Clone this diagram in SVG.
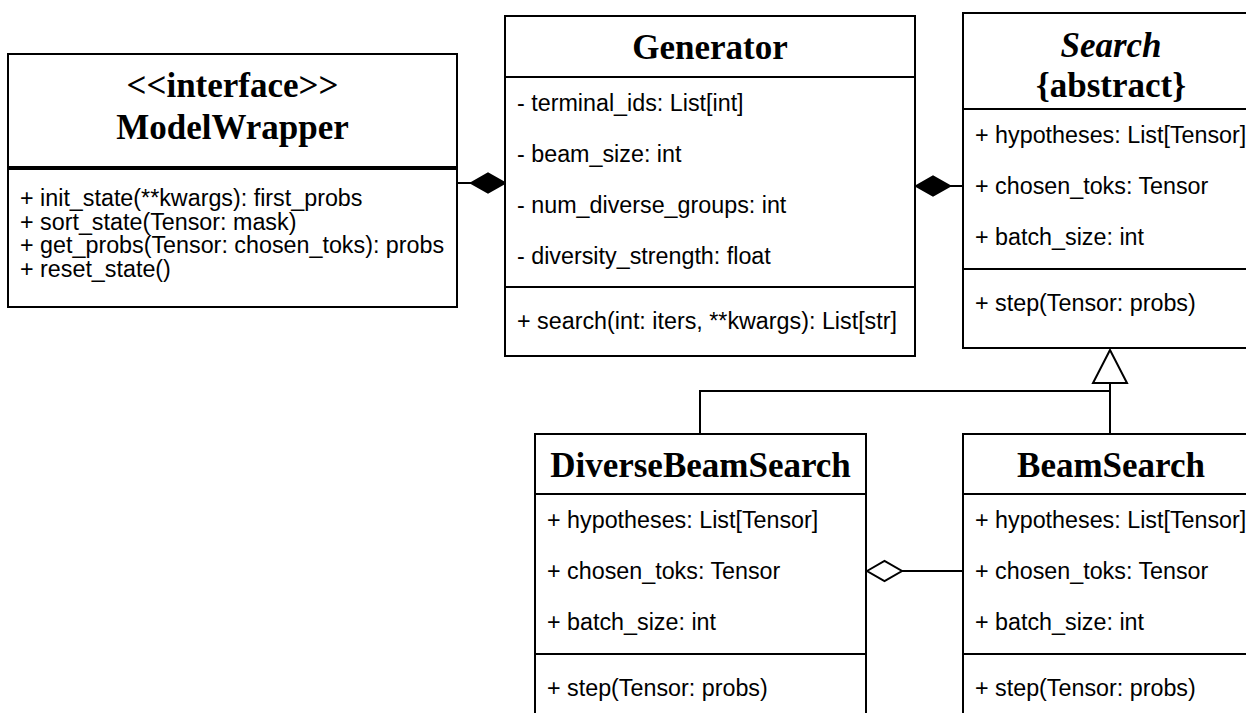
<svg xmlns="http://www.w3.org/2000/svg" width="1246" height="713" viewBox="0 0 1246 713">
  <style>
    .box { fill: #ffffff; stroke: #000000; stroke-width: 2; }
    .sep { stroke: #000000; stroke-width: 2; }
    .sep-thick { stroke: #000000; stroke-width: 4; }
    .title { font-family: "Liberation Serif", "Times New Roman", serif; font-weight: bold; font-size: 35px; fill: #000000; text-anchor: middle; }
    .italic { font-style: italic; }
    .member { font-family: "Liberation Sans", Arial, sans-serif; font-size: 23.3px; fill: #000000; }
    .edge { fill: none; stroke: #000000; stroke-width: 2; }
    .filled { fill: #000000; stroke: #000000; stroke-width: 2; stroke-linejoin: miter; }
    .hollow { fill: #ffffff; stroke: #000000; stroke-width: 2; stroke-linejoin: miter; }
  </style>

  <rect width="1246" height="713" fill="#ffffff"/>

  <!-- connectors -->
  <g id="connectors">
    <!-- Generator owns ModelWrapper (composition) -->
    <line class="edge" x1="457" y1="183" x2="471" y2="183"/>
    <polygon class="filled" points="471,183 488,173.5 505,183 488,192.5"/>
    <!-- Generator owns Search (composition) -->
    <line class="edge" x1="950" y1="186" x2="963" y2="186"/>
    <polygon class="filled" points="916,186 933,176.5 950,186 933,195.5"/>
    <!-- generalisation: DiverseBeamSearch / BeamSearch extend Search -->
    <polyline class="edge" points="700,434 700,391 1110,391"/>
    <line class="edge" x1="1110" y1="383" x2="1110" y2="434"/>
    <polygon class="hollow" points="1110,350 1127,383 1093,383"/>
    <!-- DiverseBeamSearch aggregates BeamSearch -->
    <line class="edge" x1="902" y1="571" x2="963" y2="571"/>
    <polygon class="hollow" points="867,571 884.5,561 902,571 884.5,581"/>
  </g>

  <!-- interface ModelWrapper -->
  <g id="model-wrapper">
    <rect class="box" x="8" y="54" width="449" height="253"/>
    <line class="sep-thick" x1="8" y1="168" x2="457" y2="168"/>
    <text class="title" x="232.5" y="97">&lt;&lt;interface&gt;&gt;</text>
    <text class="title" x="232.5" y="139">ModelWrapper</text>
    <text class="member" x="20" y="206">+ init_state(**kwargs): first_probs</text>
    <text class="member" x="20" y="229.5">+ sort_state(Tensor: mask)</text>
    <text class="member" x="20" y="253">+ get_probs(Tensor: chosen_toks): probs</text>
    <text class="member" x="20" y="276.5">+ reset_state()</text>
  </g>

  <!-- class Generator -->
  <g id="generator">
    <rect class="box" x="505" y="16" width="410" height="340"/>
    <line class="sep" x1="505" y1="77" x2="915" y2="77"/>
    <line class="sep" x1="505" y1="287" x2="915" y2="287"/>
    <text class="title" x="710" y="59">Generator</text>
    <text class="member" x="517" y="111">- terminal_ids: List[int]</text>
    <text class="member" x="517" y="162">- beam_size: int</text>
    <text class="member" x="517" y="213">- num_diverse_groups: int</text>
    <text class="member" x="517" y="264">- diversity_strength: float</text>
    <text class="member" x="517" y="329">+ search(int: iters, **kwargs): List[str]</text>
  </g>

  <!-- abstract class Search -->
  <g id="search">
    <rect class="box" x="963" y="13" width="296" height="335"/>
    <line class="sep" x1="963" y1="109" x2="1259" y2="109"/>
    <line class="sep" x1="963" y1="269" x2="1259" y2="269"/>
    <text class="title italic" x="1111" y="57">Search</text>
    <text class="title" x="1111" y="97">{abstract}</text>
    <text class="member" x="975" y="143">+ hypotheses: List[Tensor]</text>
    <text class="member" x="975" y="194">+ chosen_toks: Tensor</text>
    <text class="member" x="975" y="245">+ batch_size: int</text>
    <text class="member" x="975" y="311">+ step(Tensor: probs)</text>
  </g>

  <!-- class DiverseBeamSearch -->
  <g id="diverse-beam-search">
    <rect class="box" x="535" y="434" width="331" height="300"/>
    <line class="sep" x1="535" y1="494" x2="866" y2="494"/>
    <line class="sep" x1="535" y1="654" x2="866" y2="654"/>
    <text class="title" x="700.5" y="477">DiverseBeamSearch</text>
    <text class="member" x="547" y="528">+ hypotheses: List[Tensor]</text>
    <text class="member" x="547" y="579">+ chosen_toks: Tensor</text>
    <text class="member" x="547" y="630">+ batch_size: int</text>
    <text class="member" x="547" y="696">+ step(Tensor: probs)</text>
  </g>

  <!-- class BeamSearch -->
  <g id="beam-search">
    <rect class="box" x="963" y="434" width="296" height="300"/>
    <line class="sep" x1="963" y1="494" x2="1259" y2="494"/>
    <line class="sep" x1="963" y1="654" x2="1259" y2="654"/>
    <text class="title" x="1111" y="477">BeamSearch</text>
    <text class="member" x="975" y="528">+ hypotheses: List[Tensor]</text>
    <text class="member" x="975" y="579">+ chosen_toks: Tensor</text>
    <text class="member" x="975" y="630">+ batch_size: int</text>
    <text class="member" x="975" y="696">+ step(Tensor: probs)</text>
  </g>
</svg>
